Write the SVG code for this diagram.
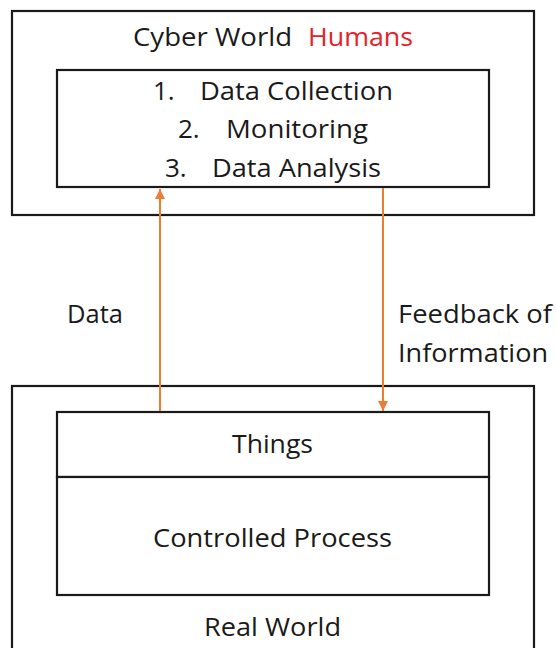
<svg xmlns="http://www.w3.org/2000/svg" width="556" height="648" viewBox="0 0 556 648">
  <defs>
    <style>
      .frame { fill: none; stroke: #1a1a1a; stroke-width: 2.2; }
      .box { fill: #ffffff; stroke: #1a1a1a; stroke-width: 2.2; }
      .lbl { font-family: "Open Sans", "Liberation Sans", sans-serif; font-size: 26px; fill: #1a1a1a; }
      .mid { text-anchor: middle; }
      .red { fill: #e8202a; }
      .flow { stroke: #ed7d31; stroke-width: 2; fill: none; }
    </style>
    <marker id="arrow" viewBox="0 0 10 10" refX="10" refY="5" markerWidth="10" markerHeight="10" markerUnits="userSpaceOnUse" orient="auto">
      <path d="M0,0 L10,5 L0,10 z" fill="#ed7d31"/>
    </marker>
  </defs>
  <rect width="556" height="648" fill="#ffffff"/>

  <!-- cyber layer -->
  <g id="cyber-world">
    <rect class="frame" x="12" y="11" width="522" height="204"/>
    <text class="lbl" x="133" y="46" textLength="159" lengthAdjust="spacingAndGlyphs">Cyber World</text>
    <text class="lbl red" x="308" y="46" textLength="105" lengthAdjust="spacingAndGlyphs">Humans</text>
  </g>
  <g id="analysis-steps">
    <rect class="box" x="57" y="70" width="432" height="117"/>
    <text class="lbl" x="153" y="100">1.</text>
    <text class="lbl" x="200" y="100" textLength="193" lengthAdjust="spacingAndGlyphs">Data Collection</text>
    <text class="lbl" x="178" y="138">2.</text>
    <text class="lbl" x="226" y="138" textLength="142" lengthAdjust="spacingAndGlyphs">Monitoring</text>
    <text class="lbl" x="165" y="177">3.</text>
    <text class="lbl" x="212" y="177" textLength="169" lengthAdjust="spacingAndGlyphs">Data Analysis</text>
  </g>

  <!-- physical layer -->
  <g id="real-world">
    <rect class="frame" x="12" y="386" width="522" height="280"/>
    <text class="lbl mid" x="272.5" y="636" textLength="137" lengthAdjust="spacingAndGlyphs">Real World</text>
  </g>
  <g id="things">
    <rect class="box" x="57" y="412" width="432" height="65"/>
    <text class="lbl mid" x="272.5" y="453" textLength="81" lengthAdjust="spacingAndGlyphs">Things</text>
  </g>
  <g id="controlled-process">
    <rect class="box" x="57" y="477" width="432" height="118"/>
    <text class="lbl mid" x="272.5" y="547" textLength="239" lengthAdjust="spacingAndGlyphs">Controlled Process</text>
  </g>

  <!-- connectors -->
  <g id="connectors">
    <line class="flow" x1="160" y1="411" x2="160" y2="189" marker-end="url(#arrow)"/>
    <line class="flow" x1="383" y1="188" x2="383" y2="411" marker-end="url(#arrow)"/>
    <text class="lbl" x="67" y="323" textLength="56" lengthAdjust="spacingAndGlyphs">Data</text>
    <text class="lbl" x="398" y="323" textLength="154" lengthAdjust="spacingAndGlyphs">Feedback of</text>
    <text class="lbl" x="398" y="362" textLength="150" lengthAdjust="spacingAndGlyphs">Information</text>
  </g>
</svg>
